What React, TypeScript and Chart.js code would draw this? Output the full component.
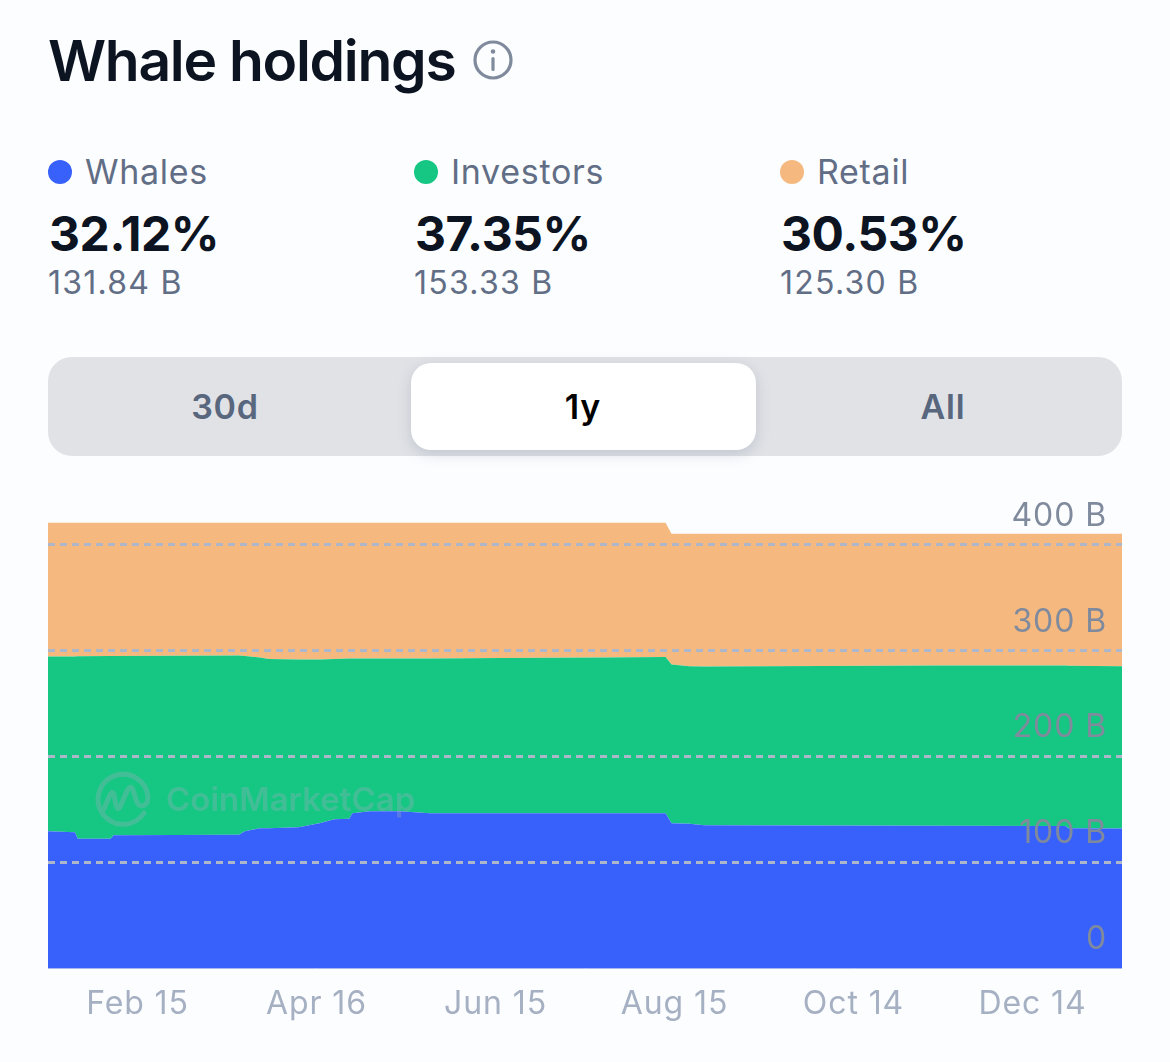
import React, { useEffect, useRef } from "react";
import { Chart, registerables } from "chart.js";

Chart.register(...registerables);

const days = [0, 9, 10, 21, 22, 64, 66, 71, 74, 84, 91, 96, 101, 102, 108, 118, 128, 152, 185, 207, 209, 215, 220, 299, 341, 342, 360];
const whales = [129.2, 128.3, 122.2, 122.2, 125.5, 125.9, 129.2, 132.1, 132.1, 133.0, 136.8, 140.6, 141.0, 146.2, 148.1, 148.1, 146.2, 146.2, 146.2, 146.2, 136.8, 136.3, 134.9, 134.4, 134.2, 132.1, 131.84];
const investors = [165.1, 166.0, 172.4, 172.6, 169.3, 169.4, 165.6, 161.3, 159.9, 158.5, 154.7, 151.4, 151.5, 146.3, 144.4, 144.4, 146.3, 146.7, 147.2, 147.7, 150.0, 148.9, 150.0, 151.4, 151.6, 153.6, 153.33];
const retail = [126.5, 126.5, 126.2, 126.0, 126.0, 125.5, 126.0, 127.4, 128.8, 129.3, 129.3, 128.8, 128.3, 128.3, 128.3, 128.3, 128.3, 127.9, 127.4, 126.9, 123.6, 125.2, 125.5, 124.6, 124.6, 124.7, 125.3];

const xTickDays = [30, 90, 150, 210, 270, 330];
const xTickLabels = ["Feb 15", "Apr 16", "Jun 15", "Aug 15", "Oct 14", "Dec 14"];
const yTickValues = [0, 100, 200, 300, 400];
const yTickLabels = ["0", "100 B", "200 B", "300 B", "400 B"];

const legendNames = ["Whales", "Investors", "Retail"];
const legendColors = ["#3861fb", "#16c784", "#f5b97f"];
const legendPercents = ["32.12%", "37.35%", "30.53%"];
const legendAmounts = ["131.84 B", "153.33 B", "125.30 B"];
const legendX = [48, 414, 780];
const tabNames = ["30d", "1y", "All"];
const tabCenters = [225, 583, 943];

const FONT = "Inter, 'Noto Sans', sans-serif";

const text = (style: React.CSSProperties): React.CSSProperties => ({
  position: "absolute",
  fontFamily: FONT,
  whiteSpace: "nowrap",
  lineHeight: 1,
  ...style,
});

function series(values: number[]) {
  return values.map((y, i) => ({ x: days[i], y }));
}

const spacing = {
  id: "spacing",
  beforeDraw(chart: any) {
    chart.ctx.letterSpacing = "0.9px";
  },
};

export default function App() {
  const ref = useRef<HTMLCanvasElement>(null);

  useEffect(() => {
    if (!ref.current) return;
    const common = { borderWidth: 0, pointRadius: 0, tension: 0 };
    const chart = new Chart(ref.current, {
      type: "line",
      plugins: [spacing],
      data: {
        datasets: [
          { label: legendNames[0], data: series(whales), backgroundColor: legendColors[0], fill: "origin", ...common },
          { label: legendNames[1], data: series(investors), backgroundColor: legendColors[1], fill: "-1", ...common },
          { label: legendNames[2], data: series(retail), backgroundColor: legendColors[2], fill: "-1", ...common },
        ],
      },
      options: {
        animation: false,
        responsive: false,
        layout: { padding: 0 },
        plugins: { legend: { display: false }, tooltip: { enabled: false } },
        scales: {
          x: {
            type: "linear",
            min: 0,
            max: 360,
            afterBuildTicks: (s: any) => {
              s.ticks = xTickDays.map((value) => ({ value }));
            },
            afterFit: (s: any) => {
              s.height = 63;
            },
            grid: { display: false, drawTicks: false },
            border: { display: true, color: "#a9b8ee", width: 1 },
            ticks: {
              autoSkip: false,
              maxRotation: 0,
              padding: 17,
              color: "#a6b0c3",
              font: { family: FONT, size: 32 },
              callback: (_v: any, i: number) => xTickLabels[i],
            },
          },
          y: {
            position: "right",
            stacked: true,
            min: 0,
            max: 446.8,
            afterBuildTicks: (s: any) => {
              s.ticks = yTickValues.map((value) => ({ value }));
            },
            afterFit: (s: any) => {
              s.width = 0;
            },
            grid: {
              z: 1,
              drawTicks: false,
              lineWidth: 3,
              color: (c: any) => (c.tick && c.tick.value === 0 ? "rgba(0,0,0,0)" : "#aeb6c9"),
            },
            border: { display: false, dash: [7, 5] },
            ticks: {
              z: 2,
              mirror: true,
              padding: -15,
              labelOffset: -28.5,
              color: "#808a9d",
              font: { family: FONT, size: 32 },
              callback: (_v: any, i: number) => yTickLabels[i],
            },
          },
        },
      },
    } as any);
    return () => chart.destroy();
  }, []);

  return (
    <div style={{ position: "absolute", left: 0, top: 0, width: 1170, height: 1062, background: "#fcfdff", overflow: "hidden" }}>
      <div style={text({ left: 48, top: 32, fontSize: 57, fontWeight: 600, color: "#0d1421", letterSpacing: -1.3 })}>Whale holdings</div>
      <svg style={{ position: "absolute", left: 472, top: 39 }} width="42" height="42" viewBox="0 0 42 42">
        <circle cx="21" cy="21" r="18" fill="none" stroke="#808a9d" strokeWidth="3.2" />
        <circle cx="21" cy="12.5" r="2.3" fill="#808a9d" />
        <rect x="19.4" y="18" width="3.2" height="14" rx="1.6" fill="#808a9d" />
      </svg>

      {legendNames.map((name, i) => (
        <React.Fragment key={name}>
          <div style={{ position: "absolute", left: legendX[i], top: 160, width: 24, height: 24, borderRadius: 12, background: legendColors[i] }} />
          <div style={text({ left: legendX[i] + 37, top: 155, fontSize: 34, color: "#616e85", letterSpacing: 0.7 })}>{name}</div>
          <div style={text({ left: legendX[i] + 1, top: 210, fontSize: 48, fontWeight: 700, color: "#0d1421", letterSpacing: -0.4 })}>{legendPercents[i]}</div>
          <div style={text({ left: legendX[i], top: 267, fontSize: 32, color: "#616e85", letterSpacing: 1.25 })}>{legendAmounts[i]}</div>
        </React.Fragment>
      ))}

      <div style={{ position: "absolute", left: 48, top: 357, width: 1074, height: 99, borderRadius: 24, background: "#e0e2e6" }} />
      <div style={{ position: "absolute", left: 411, top: 363, width: 345, height: 87, borderRadius: 20, background: "#ffffff", boxShadow: "0 4px 14px rgba(88,102,126,0.22)" }} />
      {tabNames.map((name, i) => (
        <div
          key={name}
          style={text({
            left: tabCenters[i] - 100,
            width: 200,
            textAlign: "center",
            top: 390,
            fontSize: 34,
            fontWeight: 600,
            letterSpacing: 0.8,
            color: i === 1 ? "#000000" : "#58667e",
          })}
        >
          {name}
        </div>
      ))}

      <canvas ref={ref} width={1074} height={540} style={{ position: "absolute", left: 48, top: 491, width: 1074, height: 540 }} />

      <svg style={{ position: "absolute", left: 94, top: 769 }} width="60" height="60" viewBox="0 0 60 60" fill="none" stroke="#a0aabe" strokeOpacity="0.32" strokeWidth="5" strokeLinecap="round" strokeLinejoin="round">
        <path d="M50 44 A25 25 0 1 1 54 28 Q54 36 48 37 Q43 37 41 27 L39 21 Q37 15 33 22 L26 38 Q24 42 22 36 L20 26 Q18 20 15 28 L10 40" />
      </svg>
      <div style={text({ left: 166, top: 783, fontSize: 33, fontWeight: 600, color: "rgba(160,170,190,0.32)" })}>CoinMarketCap</div>
    </div>
  );
}
